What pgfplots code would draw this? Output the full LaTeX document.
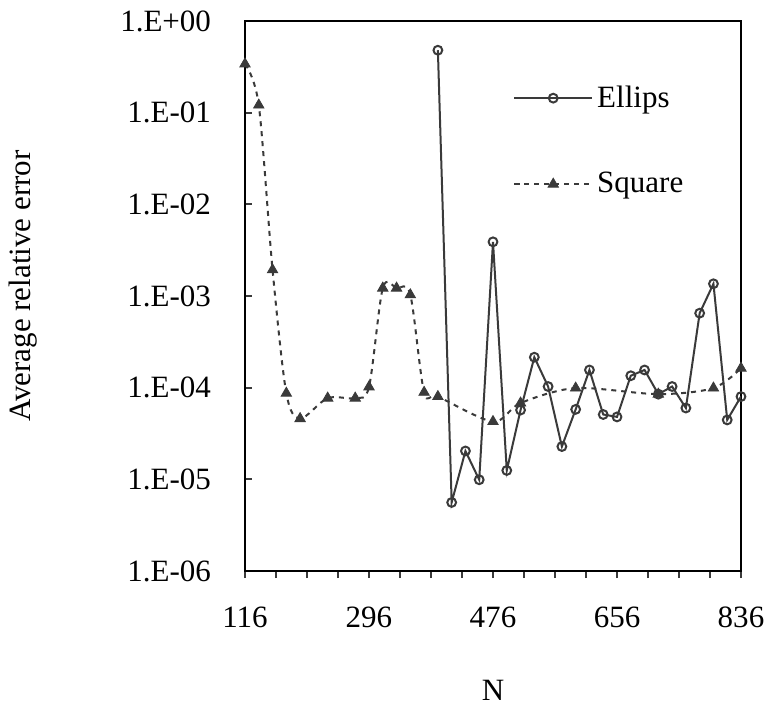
\documentclass[border=0pt]{standalone}
\usepackage{fontspec}
\setmainfont{Liberation Serif}
\usepackage{pgfplots}
\pgfplotsset{compat=1.18}
\definecolor{dk}{HTML}{3A3A3A}
\begin{document}
\begin{tikzpicture}[font=\fontsize{15.5}{18}\selectfont]
\begin{semilogyaxis}[
  scale only axis, width=248pt, height=275pt,
  xmin=116, xmax=836, ymin=1e-6, ymax=1,
  xtick={116,296,476,656,836},
  xticklabels={116,296,476,656,836},
  minor xtick={161,206,251,341,386,431,521,566,611,701,746,791},
  ytick={1e-6,1e-5,1e-4,1e-3,1e-2,1e-1,1},
  yticklabels={1.E-06,1.E-05,1.E-04,1.E-03,1.E-02,1.E-01,1.E+00},
  yminorticks=false,
  xtick pos=bottom, ytick pos=left,
  xtick align=outside, ytick align=inside,
  major tick length=3.5pt, minor tick length=3.5pt,
  every tick/.style={dk, line width=1pt},
  axis line style={black, line width=1.3pt},
  xticklabel style={anchor=north, yshift=-11pt},
  yticklabel style={anchor=east, xshift=-13.5pt},
  xlabel={N}, ylabel={Average relative error},
  every axis x label/.style={at={(axis description cs:0.5,-0.2164)}, anchor=center},
  every axis y label/.style={at={(axis description cs:-0.4476,0.518)}, anchor=center, rotate=90},
  legend style={draw=none, fill=none, at={(0.54,0.782)}, anchor=west, row sep=27pt, inner sep=0pt},
  legend cell align=left,
  legend image code/.code={\draw[mark repeat=2,mark phase=2] plot coordinates {(0pt,0pt)(19.5pt,0pt)(39pt,0pt)};},
]
\coordinate (sw) at (rel axis cs:0,0);
\coordinate (ne) at (rel axis cs:1,1);
\addplot[dk, line width=1pt, mark=o, mark size=2.2pt, mark options={solid, fill=white, line width=1pt}] coordinates {
(396,0.48) (416,5.6e-6) (436,2.04e-5) (456,9.9e-6) (476,3.9e-3) (496,1.25e-5)
(516,5.7e-5) (536,2.15e-4) (556,1.03e-4) (576,2.28e-5) (596,5.8e-5) (616,1.56e-4)
(636,5.1e-5) (656,4.8e-5) (676,1.35e-4) (696,1.56e-4) (716,8.5e-5) (736,1.03e-4)
(756,6.0e-5) (776,6.5e-4) (796,1.36e-3) (816,4.45e-5) (836,8.0e-5)
};
\addlegendentry{Ellips}
\addplot[dk, line width=1pt, dash pattern=on 2.5pt off 2.5pt, smooth, mark=triangle*, mark size=3pt, mark options={solid, fill=dk, line width=0.4pt}] coordinates {
(116,0.34) (136,0.121) (156,1.93e-3) (176,8.7e-5) (196,4.6e-5) (236,7.7e-5)
(276,7.7e-5) (296,1.02e-4) (316,1.22e-3) (336,1.22e-3) (356,1.03e-3) (376,8.9e-5)
(396,8.0e-5) (476,4.27e-5) (516,6.8e-5) (596,9.9e-5) (716,8.5e-5) (796,9.9e-5) (836,1.63e-4)
};
\addlegendentry{Square}
\end{semilogyaxis}
\pgfresetboundingbox
\path ([shift={(-122.5pt,-69pt)}]sw) rectangle ([shift={(13.5pt,10.5pt)}]ne);
\end{tikzpicture}
\end{document}
